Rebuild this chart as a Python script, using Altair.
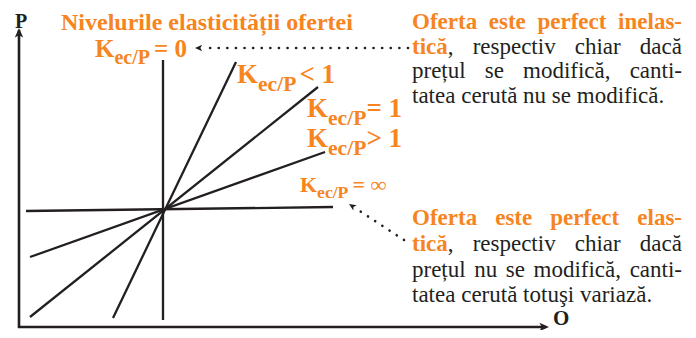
import math
import altair as alt
import pandas as pd

ORANGE = "#f6851f"
BLACK = "#231f20"

# ---------------- data (units: origin at the axes' corner, 1 unit ~ 1 px) -------------
# axes: line start/end and arrow tip
axis_names = ["P", "O"]
axis_x1 = [0, -1]
axis_y1 = [-1, 0]
axis_x2 = [0, 527]
axis_y2 = [297, 0]
axis_tip_x = [0, 530]
axis_tip_y = [299, 0]

# supply curves (end points)
curve_names = ["K=0", "K<1", "K=1", "K>1", "K=inf"]
curve_x1 = [144, 94, 11, 11, 7]
curve_y1 = [7, 9, 10, 70, 116]
curve_x2 = [144, 217, 299, 306, 314]
curve_y2 = [267, 265, 240, 175, 120]

# dotted pointers: start -> tip
ptr_x1 = [389, 385]
ptr_y1 = [279, 87]
ptr_x2 = [176, 330]
ptr_y2 = [279, 123]

# elasticity labels  K_{ec/P} <rel>
label_rel = ["= 0", "< 1", "= 1", "> 1", "= ∞"]
label_x = [76, 218, 288, 288, 281]
label_y = [270, 244, 210, 180, 135]
label_size = [25, 27, 27, 27, 22]
label_gap = [4, 3, 0, 0, 4]

title_text = "Nivelurile elasticității ofertei"
title_x, title_y, title_size = 42, 297, 24

# explanation blocks (leading orange-bold characters per line)
block1_lines = ["Oferta este perfect inelas-", "tică, respectiv chiar dacă",
                "prețul se modifică, canti-", "tatea cerută nu se modifică."]
block1_bold = [27, 4, 0, 0]
block1_y = [298, 273, 249, 224]
block2_lines = ["Oferta este perfect elas-", "tică, respectiv chiar dacă",
                "prețul nu se modifică, canti-", "tatea cerută totuşi variază."]
block2_bold = [25, 4, 0, 0]
block2_y = [102, 76, 50, 25]
block_x0, block_x1, block_size = 393, 663, 23

# ---------------- font metrics (Times / Liberation Serif) ----------------
REG = dict(zip(" ,.-/", [250, 250, 250, 333, 278]))
REG.update(dict(zip("abcdefghijklmnopqrstuvwxyz",
                    [444, 500, 444, 500, 444, 333, 500, 500, 278, 278, 500, 278, 778,
                     500, 500, 500, 500, 333, 389, 278, 500, 500, 722, 500, 500, 444])))
REG.update({"ă": 444, "ț": 278, "ţ": 278, "ş": 389, "ș": 389, "î": 278, "â": 444,
            "O": 722, "K": 722, "P": 556})
BOLD = dict(zip(" ,.-/=<>", [250, 250, 250, 333, 278, 570, 570, 570]))
BOLD.update(dict(zip("abcdefghijklmnopqrstuvwxyz",
                     [500, 556, 444, 556, 444, 333, 500, 556, 278, 333, 556, 278, 833,
                      556, 500, 556, 556, 444, 389, 333, 556, 500, 722, 500, 500, 444])))
BOLD.update({"ă": 500, "ț": 333, "ţ": 333, "ş": 389, "ș": 389, "O": 778, "K": 778,
             "N": 722, "P": 611, "0": 500, "1": 500, "∞": 713})


def tw(s, bold, size):
    tab = BOLD if bold else REG
    return sum(tab.get(c, 500) for c in s) * size / 1000.0


def layout_line(segs, x0, x1, y, size, justify):
    words = [[]]
    for text, bold in segs:
        for i, p in enumerate(text.split(" ")):
            if i > 0:
                words.append([])
            if p:
                words[-1].append((p, bold))
    words = [w for w in words if w]
    widths = [sum(tw(t, b, size) for t, b in w) for w in words]
    if justify and len(words) > 1:
        gap = (x1 - x0 - sum(widths)) / (len(words) - 1)
    else:
        gap = tw(" ", False, size)
    rows = []
    x = x0
    for w, wd in zip(words, widths):
        xx = x
        for t, b in w:
            rows.append(dict(x=xx, y=y, text=t, bold=b, size=size,
                             color=ORANGE if b else BLACK))
            xx += tw(t, b, size)
        x += wd + gap
    return rows


text_rows = []
for lines, nb, ys in [(block1_lines, block1_bold, block1_y),
                      (block2_lines, block2_bold, block2_y)]:
    for i, (ln, n, y) in enumerate(zip(lines, nb, ys)):
        segs = [(ln[:n], True), (ln[n:], False)]
        segs = [s for s in segs if s[0]]
        text_rows += layout_line(segs, block_x0, block_x1, y, block_size,
                                 justify=(i < len(lines) - 1))

text_rows.append(dict(x=title_x, y=title_y, text=title_text, bold=True,
                      size=title_size, color=ORANGE))
for rel, x, y, s, g in zip(label_rel, label_x, label_y, label_size, label_gap):
    ss = s * 0.8
    wk = tw("K", True, s)
    wsub = tw("ec/P", True, ss)
    text_rows.append(dict(x=x, y=y, text="K", bold=True, size=s, color=ORANGE))
    text_rows.append(dict(x=x + wk, y=y - 0.29 * s, text="ec/P", bold=True, size=ss,
                          color=ORANGE))
    text_rows.append(dict(x=x + wk + wsub + g, y=y, text=rel, bold=True, size=s,
                          color=ORANGE))
# axis letters
text_rows.append(dict(x=2 - tw("P", True, 20) / 2, y=299, text="P", bold=True,
                      size=20, color=BLACK))
text_rows.append(dict(x=534, y=2, text="O", bold=True, size=21, color=BLACK))

texts = pd.DataFrame(text_rows)

# ---------------- geometry tables ----------------
axes_df = pd.DataFrame(dict(name=axis_names, x1=axis_x1, y1=axis_y1,
                            x2=axis_x2, y2=axis_y2))
curves_df = pd.DataFrame(dict(name=curve_names, x1=curve_x1, y1=curve_y1,
                              x2=curve_x2, y2=curve_y2))

ptr_rows = []
head_rows = []
for tx, ty, ax, ay in zip(axis_tip_x, axis_tip_y, axis_x2, axis_y2):
    ang = math.degrees(math.atan2(-(ty - ay), tx - ax)) % 360
    head_rows.append(dict(x=tx, y=ty, angle=ang, size=64))
for x1, y1, x2, y2 in zip(ptr_x1, ptr_y1, ptr_x2, ptr_y2):
    L = math.hypot(x2 - x1, y2 - y1)
    ux, uy = (x2 - x1) / L, (y2 - y1) / L
    ptr_rows.append(dict(x1=x1, y1=y1, x2=x2 - ux * 8, y2=y2 - uy * 8))
    ang = math.degrees(math.atan2(-uy, ux)) % 360
    head_rows.append(dict(x=x2, y=y2, angle=ang, size=36))
ptr_df = pd.DataFrame(ptr_rows)
heads_df = pd.DataFrame(head_rows)

xs = alt.Scale(domain=[-11, 669], nice=False, zero=False)
ys = alt.Scale(domain=[-3, 319], nice=False, zero=False)


def X(f):
    return alt.X(f, type="quantitative", scale=xs, axis=None)


def Y(f):
    return alt.Y(f, type="quantitative", scale=ys, axis=None)


axes_layer = alt.Chart(axes_df).mark_rule(color=BLACK, strokeWidth=2.6).encode(
    x=X("x1"), y=Y("y1"), x2="x2:Q", y2="y2:Q")
curves_layer = alt.Chart(curves_df).mark_rule(color=BLACK, strokeWidth=2.3).encode(
    x=X("x1"), y=Y("y1"), x2="x2:Q", y2="y2:Q")
ptr_layer = alt.Chart(ptr_df).mark_rule(
    color=BLACK, strokeWidth=2.6, strokeCap="round", strokeDash=[0.1, 8.5]).encode(
    x=X("x1"), y=Y("y1"), x2="x2:Q", y2="y2:Q")
ARROW = "M0,0L-2.4,-1.05L-1.8,0L-2.4,1.05Z"
heads_layer = alt.Chart(heads_df).mark_point(
    filled=True, shape=ARROW, opacity=1, color=BLACK, strokeWidth=0).encode(
    x=X("x"), y=Y("y"),
    angle=alt.Angle("angle:Q", scale=None),
    size=alt.Size("size:Q", scale=None))


def text_layer(bold):
    return alt.Chart(texts[texts.bold == bold]).mark_text(
        align="left", baseline="alphabetic", font="Liberation Serif",
        fontWeight="bold" if bold else "normal").encode(
        x=X("x"), y=Y("y"), text="text:N",
        size=alt.Size("size:Q", scale=None),
        color=alt.Color("color:N", scale=None))


chart = alt.layer(axes_layer, curves_layer, ptr_layer, heads_layer,
                  text_layer(True), text_layer(False)).properties(
    width=680, height=322, padding=0,
    autosize=alt.AutoSizeParams(type="none")
).configure_view(stroke=None)

chart.save("out.html", embed_options={"renderer": "svg", "actions": False})
